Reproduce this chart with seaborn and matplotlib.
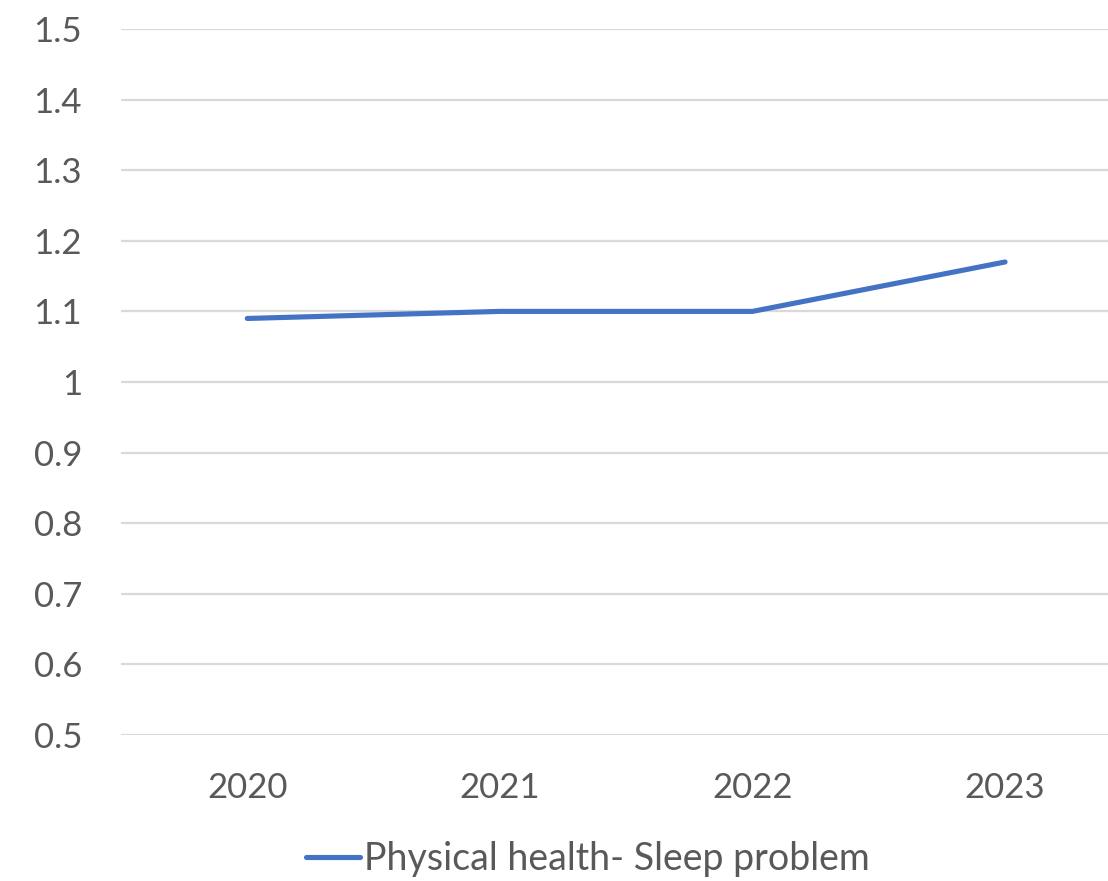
import pandas as pd
import matplotlib
matplotlib.use('Agg')
import matplotlib.pyplot as plt
import seaborn as sns

# chart data
years = ['2020', '2021', '2022', '2023']
sleep_problem = [1.09, 1.10, 1.10, 1.17]
series_name = 'Physical health- Sleep problem'
y_ticks = [0.5, 0.6, 0.7, 0.8, 0.9, 1.0, 1.1, 1.2, 1.3, 1.4, 1.5]

df = pd.DataFrame({'year': years, 'value': sleep_problem})

sns.set_style('white')
plt.rcParams['font.family'] = ['Lato', 'DejaVu Sans']

fig = plt.figure(figsize=(11.08, 8.81), dpi=100)
ax = fig.add_axes([121 / 1108, 1 - 735 / 881, (1108 - 121) / 1108, (735 - 29) / 881])

sns.lineplot(data=df, x='year', y='value', ax=ax, color='#4472C4',
             linewidth=3.7, solid_capstyle='round', label=series_name)

ax.set_ylim(0.5, 1.5)
ax.set_xlim(-0.5, 3 + (1108 - 1005) / 252.7)
ax.set_yticks(y_ticks)
ax.set_yticklabels([f'{v:g}' for v in y_ticks])
ax.grid(axis='y', color='#D9D9D9', linewidth=1.6)
ax.set_axisbelow(True)
for s in ax.spines.values():
    s.set_visible(False)
ax.tick_params(axis='y', length=0, pad=28, labelsize=25, labelcolor='#595959')
ax.tick_params(axis='x', length=0, pad=27, labelsize=25, labelcolor='#595959')
ax.set_xlabel('')
ax.set_ylabel('')

ax.legend(loc='center', bbox_to_anchor=(588 / 1108, 1 - 859 / 881),
          bbox_transform=fig.transFigure, frameon=False, fontsize=27,
          labelcolor='#595959', handlelength=1.45, handletextpad=0.1)

fig.savefig('out.png', dpi=100)
